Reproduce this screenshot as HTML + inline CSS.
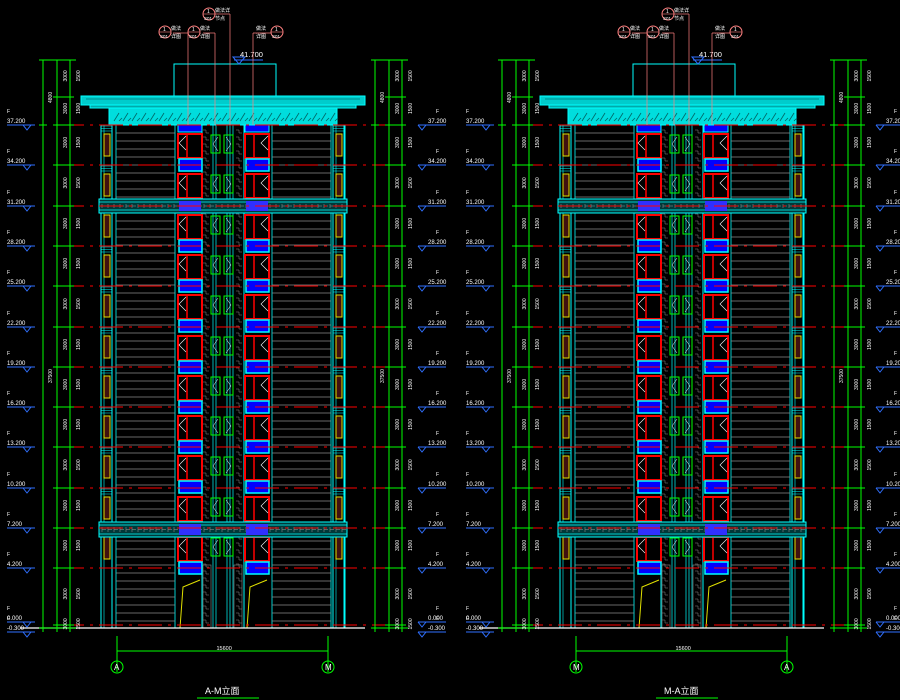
<!DOCTYPE html>
<html><head><meta charset="utf-8"><style>
html,body{margin:0;padding:0;background:#000;width:900px;height:700px;overflow:hidden}
svg{display:block}
text{font-family:"Liberation Sans","Noto Sans CJK SC",sans-serif;fill:#fff}
</style></head><body>
<svg id="s" width="900" height="700" viewBox="0 0 900 700" xmlns="http://www.w3.org/2000/svg"></svg>
<script>
(function(){
const S=document.getElementById('s');
let out='';
const L=(x1,y1,x2,y2,c,w,d)=>{out+=`<line x1="${x1}" y1="${y1}" x2="${x2}" y2="${y2}" stroke="${c}" stroke-width="${w||1}"${d?` stroke-dasharray="${d}"`:''}/>`;};
const R=(x,y,w,h,s,f,sw)=>{out+=`<rect x="${x}" y="${y}" width="${w}" height="${h}" fill="${f||'none'}" stroke="${s||'none'}" stroke-width="${sw||1}"/>`;};
const T=(x,y,t,sz,c,extra)=>{out+=`<text x="${x}" y="${y}" font-size="${sz}" fill="${c||'#fff'}" ${extra||''}>${t}</text>`;};
const C='#00ffff',RED='#ff0000',G='#00ff00',B='#0000ff',GR='#8a8a8a',Y='#e0e000',P='#ff8080';
const floors=[];for(let i=0;i<12;i++)floors.push(Math.round(125+i*40.3));
const levels=['37.200','34.200','31.200','28.200','25.200','22.200','19.200','16.200','13.200','10.200','7.200','4.200'];

function building(o){
 out+=`<g transform="translate(${o},0)">`;
 R(174,64,102,32,C);
 R(81,96,284,9,C,'#00cccc');L(86,99,360,99,'#008888',1);
 R(90,105,266,3,C,'#00aaaa');
 R(109,108,228,17,C,'#00dddd');
 for(let x=114;x<334;x+=9){L(x,121,x+5,113,'#006666',0.8);L(x+5,121,x+8,118,'#006666',0.8);}
 R(101,125,244,503,C);
 for(const px of [101,333]){
  R(px,125,11,503,C);L(px+3,125,px+3,628,C,0.6);
  for(let i=0;i<11;i++){const f=floors[i];R(px+3,f+9,6,22,Y,'#401010');for(let k=0;k<3;k++)L(px,f+1+k*2.5,px+11,f+1+k*2.5,C,0.5);}
 }
 for(const [a,b] of [[113,177],[269,333]]){
  L(a+3,125,a+3,628,C,0.8);L(b-2,125,b-2,628,C,0.8);
  for(let y=133;y<625;y+=8){if((y>198&&y<215)||(y>520&&y<539))continue;L(a+3,y,b-2,y,GR,0.8);}
 }
 R(202,125,42,503,C);
 for(const x of [213,216,227,230,233]) L(x,125,x,628,C,0.7);
 for(let y=130;y<625;y+=7){for(const x of [203,236]){out+=`<path d="M${x} ${y}h3v3h3" stroke="${GR}" fill="none" stroke-width="0.5"/>`;}}
 for(let i=0;i<11;i++){
  const f=floors[i];
  for(const wx of [177,244]){
   R(wx+1,f+9,24,24,RED,'#000',2);
   L(wx+10,f+9,wx+10,f+33,RED,1.5);
   const lx=wx===177?wx+1:wx+16;
   out+=`<path d="M${lx+8} ${f+11} L${lx+1} ${f+18} L${lx+8} ${f+25}" stroke="#fff" fill="none" stroke-width="0.6"/>`;
   R(wx+2,f+34,23,12,C,B,1.5);
  }
  R(211,f+10,9,18,G,'none',1);R(224,f+10,9,18,G,'none',1);
  out+=`<path d="M218 ${f+12} L213 ${f+19} L218 ${f+26} M226 ${f+12} L231 ${f+19} L226 ${f+26}" stroke="#fff" fill="none" stroke-width="0.5"/>`;
 }
 R(178,125,24,7,C,B);R(245,125,24,7,C,B);
 for(const [y,h] of [[199,14],[522,15]]){
  R(99,y,248,h,C,'#003838');L(99,y+3,347,y+3,C,0.7);L(99,y+h-3,347,y+h-3,C,0.7);
  for(let x=102;x<344;x+=6){L(x,y+5,x,y+h-5,GR,0.6);L(x,y+h/2,x+4,y+h/2,GR,0.6);}
  R(179,y+2,22,h-4,'none','#3030ff');R(246,y+2,22,h-4,'none','#3030ff');
 }
 out+=`<path d="M180 628 L183 587 L200 580 M247 628 L250 587 L267 580" stroke="${Y}" fill="none" stroke-width="1"/>`;
 R(203,565,8,63,GR,'none',0.6);R(234,565,8,63,GR,'none',0.6);
 out+=`</g>`;
}
building(0);building(459);

for(const f of floors.concat([625])){
 L(60,f,400,f,RED,1,'24 6 3 6');L(519,f,860,f,RED,1,'24 6 3 6');
}
L(20,628,365,628,'#fff',1.2);L(479,628,824,628,'#fff',1.2);

function dims(xs){
 for(const x of xs) L(x,60,x,632,G,1);
 L(xs[0]-4,60,xs[2]+6,60,G,1);
 const ticks=[60,97].concat(floors,[625,628]);
 for(const y of ticks){L(xs[1]-4,y,xs[2]+4,y,G,1);}
 L(xs[0]-4,125,xs[0]+4,125,G,1);L(xs[0]-4,628,xs[2]+6,628,G,1);
 for(let i=0;i<ticks.length-1;i++){
  const y=(ticks[i]+ticks[i+1])/2;
  T(xs[1]+2,y+5,'3000',5,'#fff',`transform="rotate(-90 ${xs[1]+5} ${y})"`);
  T(xs[2]+2,y+5,'1500',5,'#fff',`transform="rotate(-90 ${xs[2]+5} ${y})"`);
 }
 T(xs[0]+1,105,'4800',5,'#fff',`transform="rotate(-90 ${xs[0]+4} 100)"`);
 T(xs[0]+1,385,'37500',5,'#fff',`transform="rotate(-90 ${xs[0]+4} 380)"`);
}
dims([43,57,70]);dims([375,389,402]);
dims([502,516,529]);dims([834,848,861]);

function lvl(x,y,t,right){
 const w=28;
 L(x,y,x+w,y,'#3070ff',1);
 const tx=right?x+4:x+w-8;
 out+=`<path d="M${tx-4} ${y} L${tx} ${y+5} L${tx+4} ${y}" stroke="#3070ff" fill="none"/>`;
 T(x+(right?10:0),y-2,t,6,'#fff');
 T(x+(right?18:0),y-12,'F',5,P);
}
for(let i=0;i<floors.length;i++){
 lvl(7,floors[i],levels[i]);lvl(418,floors[i],levels[i],1);
 lvl(466,floors[i],levels[i]);lvl(876,floors[i],levels[i],1);
}
for(const x of [7,466]){lvl(x,622,'0.000');lvl(x,632,'-0.300');}
for(const x of [418,876]){lvl(x,622,'0.000',1);lvl(x,632,'-0.300',1);}

function topAnno(o){
 out+=`<g transform="translate(${o},0)">`;
 L(234,60,263,60,'#3070ff',1);out+=`<path d="M233 57 L239 64 L245 57 Z" stroke="#3070ff" fill="none"/>`;
 T(240,57,'41.700',7.5,'#fff');
 for(const [cx,cy] of [[209,14],[165,32],[194,32],[277,32]]){
  out+=`<circle cx="${cx}" cy="${cy}" r="6" stroke="${P}" fill="none"/>`;L(cx-6,cy,cx+6,cy,P,0.6);
  T(cx-2,cy-1,'1',5,'#fff');T(cx-5,cy+6,'S01',4.5,'#fff');
 }
 T(215,12,'做法详',5);T(215,20,'节点',5);T(171,30,'做法',5);T(171,38,'详图',5);T(200,30,'做法',5);T(200,38,'详图',5);T(256,30,'做法',5);T(256,38,'详图',5);
 L(188,33,188,125,P,0.7);L(203,33,215,33,P,0.7);L(215,14,230,14,P,0.7);L(230,14,230,125,P,0.7);L(215,33,215,125,P,0.7);L(253,33,253,125,P,0.7);L(253,33,271,33,P,0.7);L(173,33,188,33,P,0.7);
 out+=`</g>`;
}
topAnno(0);topAnno(459);

function axis(x1,x2,a,b,title,tx){
 L(x1,636,x1,672,G,1);L(x2,636,x2,672,G,1);L(x1,651,x2,651,G,1);
 T((x1+x2)/2-6,650,'15600',5.5);
 out+=`<circle cx="${x1}" cy="667" r="6" stroke="${G}" fill="none"/><circle cx="${x2}" cy="667" r="6" stroke="${G}" fill="none"/>`;
 T(x1-3,670,a,8,'#fff');T(x2-3,670,b,8,'#fff');
 T(tx,694,title,9,'#fff');L(tx-8,698,tx+54,698,G,1);
}
axis(117,328,'A','M','A-M立面',205);
axis(576,787,'M','A','M-A立面',664);
S.innerHTML=out;
})();
</script>
</body></html>
